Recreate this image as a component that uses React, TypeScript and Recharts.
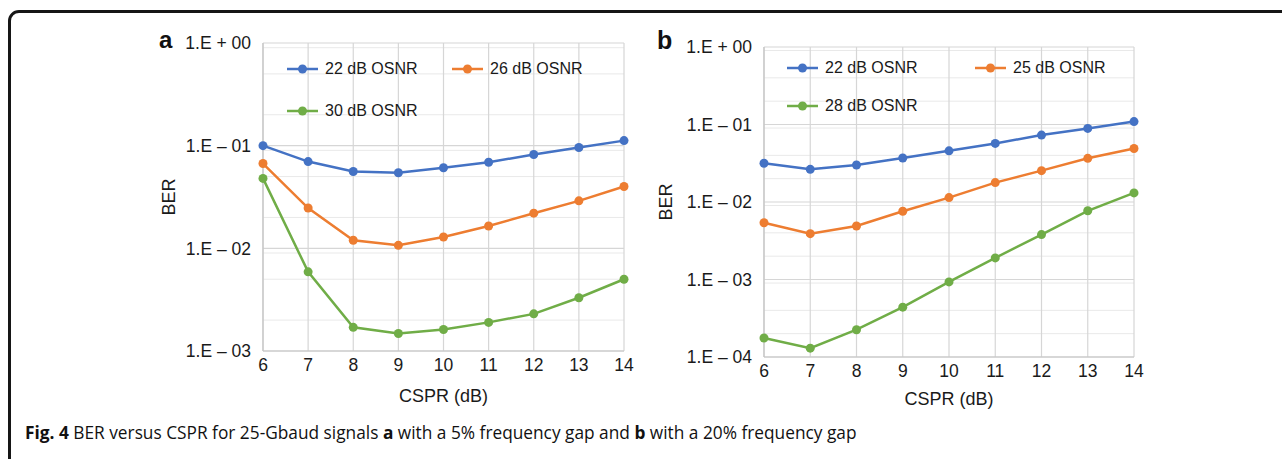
import React from "react";
import { LineChart, Line, XAxis, YAxis, CartesianGrid, Legend } from "recharts";

const cspr = [6, 7, 8, 9, 10, 11, 12, 13, 14];

// panel a: 5% frequency gap
const aOsnr22 = [0.1, 0.07, 0.056, 0.0545, 0.061, 0.069, 0.082, 0.096, 0.112];
const aOsnr26 = [0.067, 0.0247, 0.012, 0.0107, 0.0129, 0.0165, 0.022, 0.029, 0.04];
const aOsnr30 = [0.048, 0.0059, 0.0017, 0.00148, 0.00162, 0.0019, 0.0023, 0.0033, 0.005];

// panel b: 20% frequency gap
const bOsnr22 = [0.0316, 0.0264, 0.03, 0.037, 0.0457, 0.057, 0.073, 0.089, 0.109];
const bOsnr25 = [0.0054, 0.0039, 0.0049, 0.0076, 0.0114, 0.0178, 0.0254, 0.0366, 0.049];
const bOsnr28 = [0.000176, 0.00013, 0.000225, 0.00044, 0.00093, 0.0019, 0.0038, 0.0077, 0.0131];

const aTicks = [0.001, 0.01, 0.1, 1];
const bTicks = [0.0001, 0.001, 0.01, 0.1, 1];

const BLUE = "#4472C4";
const ORANGE = "#ED7D31";
const GREEN = "#70AD47";
const FONT = "'Liberation Sans', Arial, Helvetica, sans-serif";

const minorValues = (ticks: number[]) => {
  const out: number[] = [];
  for (let i = 0; i < ticks.length - 1; i++) {
    for (let m = 2; m <= 9; m++) out.push(ticks[i] * m);
  }
  return out;
};

const fmtTick = (v: number) => {
  const e = Math.round(Math.log10(v));
  return e === 0 ? "1.E + 00" : `1.E – 0${-e}`;
};

type Series = { name: string; values: number[]; color: string };

type PanelProps = {
  left: number;
  width: number;
  margin: { top: number; right: number; left: number; bottom: number };
  yWidth: number;
  xHeight: number;
  ticks: number[];
  series: Series[];
  legendLeft: number;
  legendTop: number;
  colPitch: number;
  rowPitch: number;
  berDx: number;
  csprDy: number;
};

function Panel(p: PanelProps) {
  const rows = cspr.map((x, i) => {
    const r: Record<string, number> = { x };
    p.series.forEach((s) => (r[s.name] = s.values[i]));
    return r;
  });
  const domain = [p.ticks[0], p.ticks[p.ticks.length - 1]];

  const renderLegend = (props: any) => {
    const payload = props.payload || [];
    return (
      <div style={{ position: "relative", width: 2 * p.colPitch, height: 2 * p.rowPitch }}>
        {payload.map((item: any, i: number) => (
          <div
            key={item.value}
            style={{
              position: "absolute",
              left: (i % 2) * p.colPitch,
              top: Math.floor(i / 2) * p.rowPitch,
              height: 20,
              display: "flex",
              alignItems: "center",
              whiteSpace: "nowrap",
              fontFamily: FONT,
              fontSize: 16,
              color: "#1a1a1a",
            }}
          >
            <svg width={31} height={12} style={{ marginRight: 7 }}>
              <line x1={0} y1={6} x2={31} y2={6} stroke={item.color} strokeWidth={2.5} />
              <circle cx={15.5} cy={6} r={4.5} fill={item.color} />
            </svg>
            {item.value}
          </div>
        ))}
      </div>
    );
  };

  return (
    <div style={{ position: "absolute", left: p.left, top: 20 }}>
      <LineChart width={p.width} height={400} data={rows} margin={p.margin}>
        <CartesianGrid
          horizontalValues={minorValues(p.ticks)}
          vertical={false}
          stroke="#e9e9e9"
          strokeWidth={1}
        />
        <CartesianGrid stroke="#d6d6d6" strokeWidth={1.2} />
        <XAxis
          dataKey="x"
          type="number"
          domain={[6, 14]}
          ticks={cspr}
          tickLine={false}
          tickSize={0}
          tickMargin={8}
          height={p.xHeight}
          axisLine={{ stroke: "#c4c4c4", strokeWidth: 1.2 }}
          tick={{ fill: "#1a1a1a", fontSize: 17.5, fontFamily: FONT }}
          label={{
            content: (lp: any) => {
              const vb = lp.viewBox;
              return (
                <text
                  x={vb.x + vb.width / 2}
                  y={vb.y + p.csprDy}
                  textAnchor="middle"
                  dominantBaseline="central"
                  fill="#1a1a1a"
                  fontSize={18}
                  fontFamily={FONT}
                >
                  CSPR (dB)
                </text>
              );
            },
          }}
        />
        <YAxis
          scale="log"
          type="number"
          domain={domain}
          ticks={p.ticks}
          allowDataOverflow
          width={p.yWidth}
          tickLine={false}
          tickSize={0}
          tickMargin={12}
          tickFormatter={fmtTick}
          axisLine={{ stroke: "#c4c4c4", strokeWidth: 1.2 }}
          tick={{ fill: "#1a1a1a", fontSize: 17.5, fontFamily: FONT }}
          label={{
            content: (lp: any) => {
              const vb = lp.viewBox;
              const x = vb.x + p.berDx;
              const y = vb.y + vb.height / 2;
              return (
                <text
                  x={x}
                  y={y}
                  transform={`rotate(-90 ${x} ${y})`}
                  textAnchor="middle"
                  dominantBaseline="central"
                  fill="#1a1a1a"
                  fontSize={18}
                  fontFamily={FONT}
                >
                  BER
                </text>
              );
            },
          }}
        />
        <Legend
          content={renderLegend}
          verticalAlign="middle"
          align="center"
          wrapperStyle={{ left: p.legendLeft, top: p.legendTop, width: "auto" }}
        />
        {p.series.map((s) => (
          <Line
            key={s.name}
            dataKey={s.name}
            name={s.name}
            stroke={s.color}
            strokeWidth={2.5}
            dot={{ r: 4.5, fill: s.color, stroke: s.color, strokeWidth: 0 }}
            activeDot={false}
            isAnimationActive={false}
          />
        ))}
      </LineChart>
    </div>
  );
}

export default function App() {
  return (
    <div
      style={{
        position: "relative",
        width: 1282,
        height: 459,
        overflow: "hidden",
        background: "#fff",
      }}
    >
      <style>{"body{margin:0}"}</style>
      <div
        style={{
          position: "absolute",
          left: 8,
          top: 10,
          width: 1320,
          height: 520,
          border: "3px solid #161616",
          borderTopLeftRadius: 11,
          boxSizing: "border-box",
        }}
      />
      <div
        style={{
          position: "absolute",
          left: 159,
          top: 26,
          fontFamily: FONT,
          fontWeight: 700,
          fontSize: 24,
          color: "#111",
        }}
      >
        a
      </div>
      <div
        style={{
          position: "absolute",
          left: 657,
          top: 26,
          fontFamily: FONT,
          fontWeight: 700,
          fontSize: 25,
          color: "#111",
        }}
      >
        b
      </div>
      <Panel
        left={150}
        width={500}
        margin={{ top: 23, right: 26, left: 10, bottom: 0 }}
        yWidth={103}
        xHeight={69}
        ticks={aTicks}
        series={[
          { name: "22 dB OSNR", values: aOsnr22, color: BLUE },
          { name: "26 dB OSNR", values: aOsnr26, color: ORANGE },
          { name: "30 dB OSNR", values: aOsnr30, color: GREEN },
        ]}
        legendLeft={137}
        legendTop={39}
        colPitch={165}
        rowPitch={41.7}
        berDx={9}
        csprDy={45}
      />
      <Panel
        left={650}
        width={510}
        margin={{ top: 27, right: 26, left: 10, bottom: 0 }}
        yWidth={104}
        xHeight={63}
        ticks={bTicks}
        series={[
          { name: "22 dB OSNR", values: bOsnr22, color: BLUE },
          { name: "25 dB OSNR", values: bOsnr25, color: ORANGE },
          { name: "28 dB OSNR", values: bOsnr28, color: GREEN },
        ]}
        legendLeft={137}
        legendTop={38}
        colPitch={188}
        rowPitch={38}
        berDx={6}
        csprDy={42}
      />
      <div
        style={{
          position: "absolute",
          left: 25,
          top: 421,
          fontFamily: "'Open Sans', sans-serif",
          fontSize: 17.3,
          color: "#111",
          whiteSpace: "nowrap",
        }}
      >
        <b>Fig. 4</b> BER versus CSPR for 25-Gbaud signals <b>a</b> with a 5% frequency gap and{" "}
        <b>b</b> with a 20% frequency gap
      </div>
    </div>
  );
}
